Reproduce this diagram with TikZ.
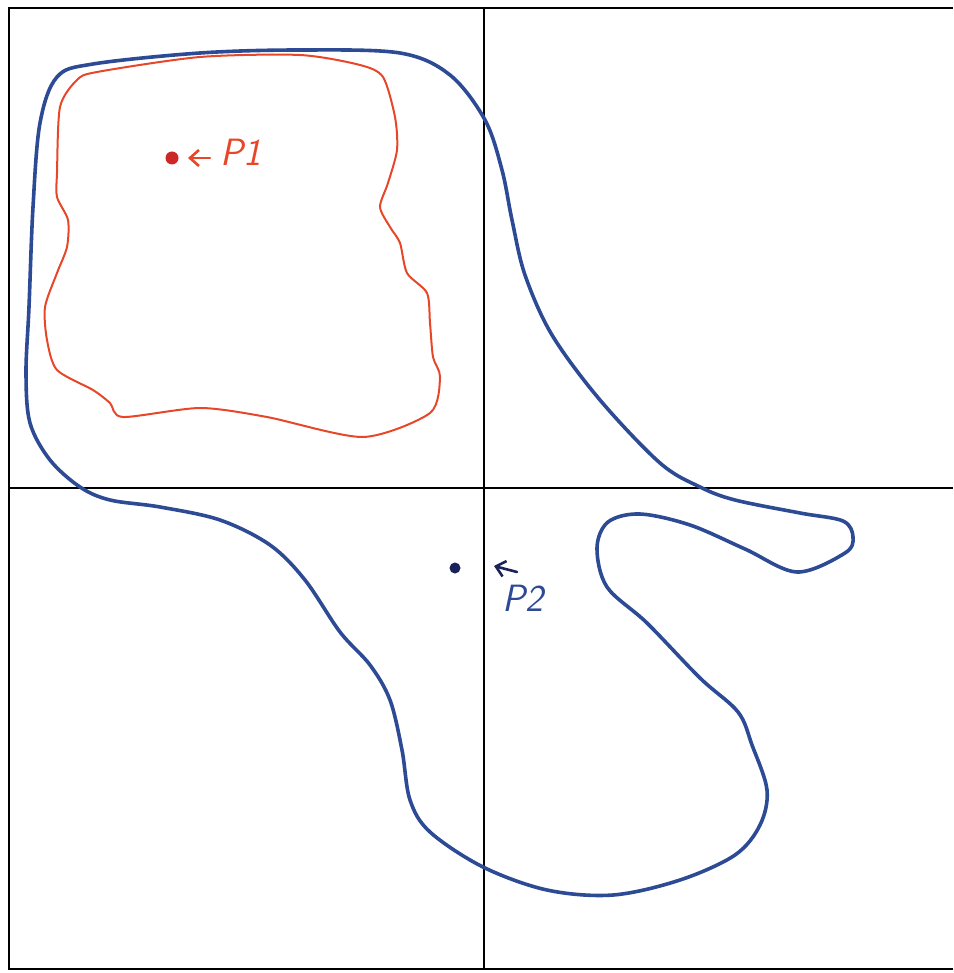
\documentclass[tikz,border=0pt]{standalone}
\usetikzlibrary{arrows.meta}
\definecolor{penblue}{RGB}{45,75,148}
\definecolor{penred}{RGB}{232,70,40}
\definecolor{dotred}{RGB}{205,40,40}
\definecolor{navy}{RGB}{25,35,90}
\tikzset{
  frame/.style={line width=2.6pt, black},
  axisline/.style={line width=1.8pt, black},
  bluecurve/.style={line width=3.6pt, penblue, line join=round},
  redcurve/.style={line width=2pt, penred, line join=round},
  ptdot/.style={circle, inner sep=0pt, minimum size=13pt},
  hand/.style={font=\fontsize{38}{42}\selectfont\sffamily\itshape, inner sep=0pt},
  pointer/.style={-{Straight Barb[length=9pt,width=16pt]}, line width=2.6pt, line cap=round}
}
\begin{document}
\begin{tikzpicture}[x=1pt,y=-1pt]
\useasboundingbox (0,0) rectangle (953,973);
% frame (no right side)
\draw[frame] (953,8) -- (9,8) -- (9,969) -- (953,969);
% axes
\draw[axisline] (484,8) -- (484,969);
\draw[axisline] (9,488) -- (953,488);
% blue closed curve
\draw[bluecurve] plot[smooth cycle, tension=0.55] coordinates {
(57,77) (93,64) (200,53) (300,50) (400,53) (450,75) (485,120) (502,170)
(512,220) (525,275) (552,335) (600,400) (660,463) (700,487) (735,500)
(800,513) (843,521) (853,537) (845,553) (797,572) (745,549) (690,525)
(640,514) (608,522) (597,548) (607,587) (647,623) (700,678) (738,712)
(752,745) (767,790) (760,825) (735,855) (680,880)
(613,895) (547,890) (483,867) (430,832) (410,800) (402,750) (390,700)
(370,665) (340,632) (305,580) (270,545) (220,520) (160,507) (110,500)
(80,487) (50,460) (30,423) (26,373) (29,307) (33,207) (40,123)};
% red closed curve
\draw[redcurve] plot[smooth cycle, tension=0.45] coordinates {
(97,72) (200,57) (300,55) (360,65) (383,77) (395,117) (397,150) (388,183)
(380,207) (390,227) (400,243) (407,273) (427,293) (430,323) (433,357)
(440,377) (430,413) (363,437) (267,417) (200,408) (123,417) (110,403)
(93,390) (57,370) (47,340) (45,307) (57,273) (67,247) (68,220) (57,197)
(57,173) (60,107) (77,80)};
% point P1
\node[ptdot, fill=dotred] (p1) at (172,158) {};
\node[hand, text=penred, anchor=west] (l1) at (220,152) {P1};
\coordinate (a1) at (210,158);
\draw[pointer, penred] (a1) -- (188,158);
% point P2
\node[ptdot, fill=navy, minimum size=11pt] (p2) at (455,568) {};
\node[hand, text=penblue, anchor=west] (l2) at (502,598) {P2};
\coordinate (a2) at (517,572);
\draw[pointer, navy] (a2) -- (494,566);
\end{tikzpicture}
\end{document}
